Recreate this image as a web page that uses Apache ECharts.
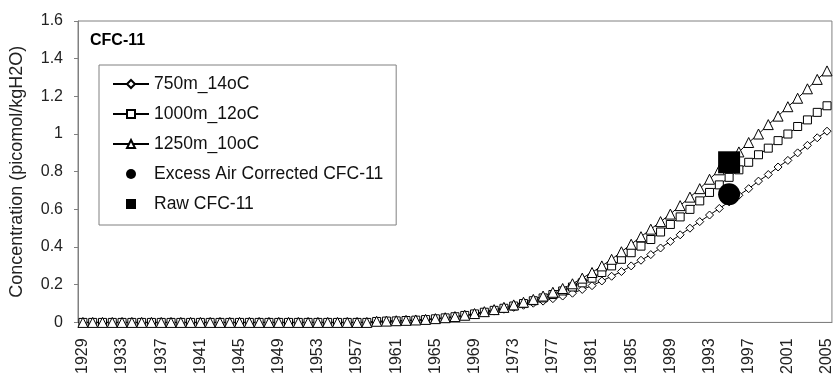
<!DOCTYPE html>
<html>
<head>
<meta charset="utf-8">
<script src="https://cdn.jsdelivr.net/npm/echarts@6/dist/echarts.min.js"></script>
<style>
  html, body { margin: 0; padding: 0; background: #fff; }
  #chart { width: 835px; height: 377px; }
</style>
</head>
<body>
<div id="chart"></div>
<script>
// years 1929..2005
const years = [];
for (let y = 1929; y <= 2005; y++) years.push(String(y));

// 1929-1958 are flat at zero
const flat = new Array(30).fill(0);

const d750 = flat.concat([
  0.004, 0.006, 0.007, 0.009, 0.011, 0.014, 0.018, 0.023, 0.029, 0.036,
  0.043, 0.051, 0.06, 0.07, 0.08, 0.091, 0.102, 0.113, 0.126, 0.14,
  0.155, 0.175, 0.195, 0.22, 0.245, 0.27, 0.30, 0.33, 0.36, 0.395,
  0.43, 0.465, 0.50, 0.535, 0.57, 0.605, 0.64, 0.675, 0.71, 0.75,
  0.785, 0.825, 0.86, 0.90, 0.94, 0.98, 1.015
]);

const d1000 = flat.concat([
  0.005, 0.007, 0.008, 0.01, 0.012, 0.015, 0.019, 0.024, 0.03, 0.037,
  0.045, 0.054, 0.064, 0.075, 0.087, 0.10, 0.115, 0.13, 0.148, 0.167,
  0.188, 0.21, 0.235, 0.265, 0.30, 0.335, 0.37, 0.405, 0.44, 0.48,
  0.52, 0.56, 0.60, 0.645, 0.69, 0.73, 0.77, 0.81, 0.85, 0.89,
  0.925, 0.965, 1.0, 1.04, 1.075, 1.115, 1.15
]);

const d1250 = flat.concat([
  0.006, 0.007, 0.009, 0.011, 0.013, 0.016, 0.02, 0.025, 0.031, 0.038,
  0.047, 0.057, 0.068, 0.08, 0.093, 0.107, 0.122, 0.14, 0.16, 0.18,
  0.205, 0.235, 0.265, 0.30, 0.335, 0.375, 0.415, 0.455, 0.495, 0.535,
  0.575, 0.62, 0.665, 0.71, 0.76, 0.81, 0.86, 0.905, 0.955, 1.0,
  1.05, 1.095, 1.145, 1.19, 1.24, 1.29, 1.335
]);

// measured points (year, value)
const corrected = [['1995', 0.68]];
const raw = [['1995', 0.85]];

const chart = echarts.init(document.getElementById('chart'));

const lineSeries = (name, data, symbol, size) => ({
  name: name,
  type: 'line',
  data: data,
  symbol: symbol,
  symbolSize: size,
  showAllSymbol: true,
  lineStyle: { color: '#000', width: 1 },
  itemStyle: { color: '#fff', borderColor: '#000', borderWidth: 1 },
  emphasis: { disabled: true }
});

chart.setOption({
  animation: false,
  title: {
    text: 'CFC-11',
    left: 85,
    top: 28,
    textStyle: { fontFamily: 'Liberation Sans', fontSize: 16, fontWeight: 'bold', color: '#000' }
  },
  legend: {
    orient: 'vertical',
    left: 99,
    top: 65,
    padding: [10, 13, 12, 13],
    backgroundColor: '#fff',
    borderColor: '#808080',
    borderWidth: 1,
    itemWidth: 36,
    itemHeight: 10,
    itemGap: 12,
    symbolKeepAspect: true,
    textStyle: { fontFamily: 'Liberation Sans', fontSize: 17.5, lineHeight: 16, color: '#111' },
    data: [
      '750m_14oC',
      '1000m_12oC',
      '1250m_10oC',
      'Excess Air Corrected CFC-11',
      { name: 'Raw CFC-11', icon: 'path://M0,0L10,0L10,10L0,10Z' }
    ]
  },
  grid: {
    left: 78,
    right: -1,
    top: 21,
    bottom: 54,
    show: true,
    borderColor: '#808080',
    borderWidth: 1
  },
  xAxis: {
    type: 'category',
    data: years,
    boundaryGap: true,
    axisLine: { lineStyle: { color: '#808080', width: 1 } },
    axisTick: { interval: 0, length: 4, lineStyle: { color: '#808080' } },
    axisLabel: {
      interval: 3,
      rotate: 90,
      fontFamily: 'Liberation Sans',
      fontSize: 16,
      color: '#222',
      margin: 16
    },
    splitLine: { show: false }
  },
  yAxis: {
    type: 'value',
    min: 0,
    max: 1.6,
    interval: 0.2,
    name: 'Concentration (picomol/kgH2O)',
    nameLocation: 'middle',
    nameGap: 52,
    nameTextStyle: { fontFamily: 'Liberation Sans', fontSize: 18, color: '#222' },
    axisLine: { show: true, lineStyle: { color: '#808080', width: 1 } },
    axisTick: { show: true, length: 4, lineStyle: { color: '#808080' } },
    axisLabel: { fontFamily: 'Liberation Sans', fontSize: 16, color: '#222', margin: 15 },
    splitLine: { show: false }
  },
  series: [
    lineSeries('750m_14oC', d750, 'diamond', 8),
    lineSeries('1000m_12oC', d1000, 'rect', 8),
    lineSeries('1250m_10oC', d1250, 'triangle', 10),
    {
      name: 'Excess Air Corrected CFC-11',
      type: 'scatter',
      data: corrected,
      symbol: 'circle',
      symbolSize: 22,
      itemStyle: { color: '#000', opacity: 1 },
      z: 5
    },
    {
      name: 'Raw CFC-11',
      type: 'scatter',
      data: raw,
      symbol: 'rect',
      symbolSize: 22,
      itemStyle: { color: '#000', opacity: 1 },
      z: 5
    }
  ]
});
</script>
</body>
</html>
